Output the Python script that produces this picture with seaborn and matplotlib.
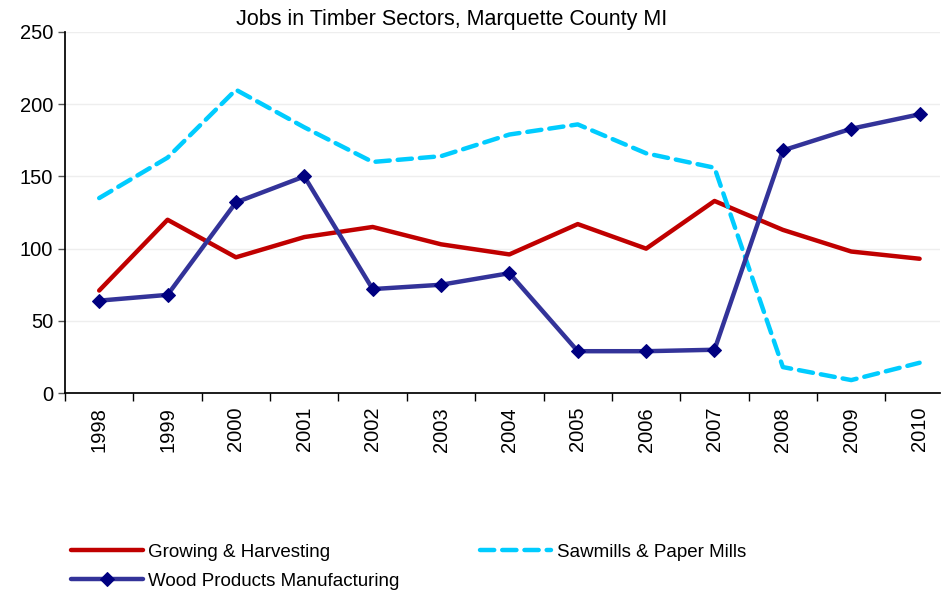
import numpy as np
import pandas as pd
import matplotlib
matplotlib.use('Agg')
import matplotlib.pyplot as plt
import seaborn as sns
from matplotlib.ticker import FixedLocator

years = ['1998', '1999', '2000', '2001', '2002', '2003', '2004',
         '2005', '2006', '2007', '2008', '2009', '2010']
growing = [71, 120, 94, 108, 115, 103, 96, 117, 100, 133, 113, 98, 93]
sawmills = [135, 163, 210, 184, 160, 164, 179, 186, 166, 156, 18, 9, 21]
wood = [64, 68, 132, 150, 72, 75, 83, 29, 29, 30, 168, 183, 193]

series_names = ['Growing & Harvesting', 'Sawmills & Paper Mills',
                'Wood Products Manufacturing']

rows = []
for name, vals in zip(series_names, [growing, sawmills, wood]):
    for i, v in enumerate(vals):
        rows.append({'idx': i, 'year': years[i], 'jobs': v, 'series': name})
df = pd.DataFrame(rows)

sns.set_theme(style='white')
plt.rcParams['font.family'] = ['Liberation Sans', 'DejaVu Sans']
plt.rcParams['text.color'] = 'black'
plt.rcParams['xtick.color'] = 'black'
plt.rcParams['ytick.color'] = 'black'

fig = plt.figure(figsize=(9.42, 5.92), dpi=100)
ax = fig.add_axes([0.069, 0.336, 0.929, 0.61])

palette = {'Growing & Harvesting': '#C00000',
           'Sawmills & Paper Mills': '#00CCFF',
           'Wood Products Manufacturing': '#333399'}

sns.lineplot(data=df[df.series == series_names[0]], x='idx', y='jobs',
             color=palette[series_names[0]], lw=3.2, ax=ax,
             label=series_names[0], sort=False)
sns.lineplot(data=df[df.series == series_names[1]], x='idx', y='jobs',
             color=palette[series_names[1]], lw=3.2, ax=ax,
             label=series_names[1], sort=False, linestyle=(0, (3.2, 1.8)),
             dash_capstyle='round')
sns.lineplot(data=df[df.series == series_names[2]], x='idx', y='jobs',
             color=palette[series_names[2]], lw=3.2, ax=ax,
             label=series_names[2], sort=False, marker='D', markersize=7,
             markerfacecolor='#000080', markeredgecolor='#000080')

ax.set_xlim(-0.5, 12.3)
ax.set_ylim(0, 250)
ax.set_yticks([0, 50, 100, 150, 200, 250])
ax.set_xticks(range(len(years)))
ax.set_xticklabels(years, rotation=90, fontsize=14.5)
ax.xaxis.set_minor_locator(FixedLocator(np.arange(-0.5, 12.6, 1)))
ax.tick_params(axis='x', which='major', length=0, pad=10)
ax.tick_params(axis='x', which='minor', length=6, width=1, color='black',
               direction='out', bottom=True)
ax.tick_params(axis='y', length=5, width=1, color='#555555', direction='out',
               left=True, labelsize=14.5)
ax.yaxis.grid(True, color='#EEEEEE', lw=1)
ax.set_axisbelow(True)
for s in ['top', 'right']:
    ax.spines[s].set_visible(False)
ax.spines['left'].set_color('black')
ax.spines['bottom'].set_color('black')
ax.set_xlabel('')
ax.set_ylabel('')
ax.set_title('Jobs in Timber Sectors, Marquette County MI', fontsize=15.5,
             pad=5, color='black', x=0.442)

handles, labels = ax.get_legend_handles_labels()
order = [0, 2, 1]
ax.legend([handles[i] for i in order], [labels[i] for i in order],
          loc='upper left', bbox_to_anchor=(-0.012, -0.37),
          ncol=2, frameon=False, fontsize=13.5, handlelength=3.8,
          columnspacing=4.3, labelspacing=0.65, handletextpad=0.3)

fig.savefig('out.png', dpi=100)
